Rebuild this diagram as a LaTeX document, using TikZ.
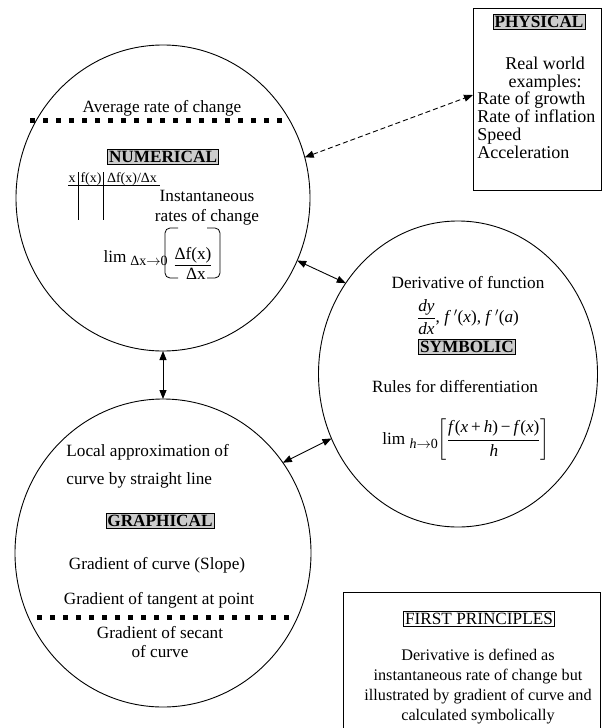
\documentclass[tikz,border=0pt]{standalone}
\usepackage{amsmath}
\usepackage{fontspec}
\setmainfont{Liberation Serif}
\usetikzlibrary{arrows.meta,shapes.geometric}
\newcommand\bodysize{\fontsize{17.2}{20}\selectfont}
\newcommand\smallsize{\fontsize{14}{16}\selectfont}

\begin{document}
\begin{tikzpicture}[x=1pt,y=-1pt,>={Triangle[length=9pt,width=7pt]},
  every node/.style={font=\bodysize,inner sep=0pt},line width=0.8pt]
  \tikzstyle{blob}=[ellipse,draw,line width=0.9pt,outer sep=0pt]
  \tikzstyle{panel}=[rectangle,draw,line width=0.9pt,outer sep=0pt]
  \tikzstyle{tag}=[draw,fill=black!20,font=\bodysize\bfseries,inner sep=1.5pt,line width=0.6pt]
  \tikzstyle{dotline}=[line width=5pt,dash pattern=on 5pt off 8pt]
  \tikzstyle{link}=[<->,line width=0.9pt]

  \useasboundingbox (0,0) rectangle (602,728);

  \node[blob,minimum width=294pt,minimum height=306pt] (num)   at (163,198) {};
  \node[blob,minimum width=279pt,minimum height=306pt] (sym)   at (458,374) {};
  \node[blob,minimum width=296pt,minimum height=308pt] (graph) at (163,553) {};
  \node[panel,minimum width=128pt,minimum height=182pt] (phys)  at (537,99) {};
  \node[panel,minimum width=257pt,minimum height=145pt] (first) at (471.5,664.5) {};

  \node (avg) at (162,108) {Average rate of change};
  \draw[dotline] (30,120) -- (285,120);
  \node[tag] (numtag) at (163,157) {NUMERICAL};
  \node[font=\smallsize] (colx) at (72,179) {x};
  \node[font=\smallsize] (colf) at (91,179) {f(x)};
  \node[font=\smallsize] (cold) at (132,179) {Δf(x)/Δx};
  \draw (68,185) -- (160,185);
  \draw (78,172) -- (78,220);
  \draw (103,172) -- (103,220);
  \node[align=center] (inst) at (207,208) {Instantaneous\\rates of change};
  \node (lim1) at (115,257) {lim};
  \node[font=\smallsize] (sub1) at (149,261) {Δx$\rightarrow$0};
  \node (fnum) at (193,257) {\underline{Δf(x)}};
  \node (fden) at (196,274) {Δx};
  \draw[rounded corners=5pt] (178,228) -- (165,228) -- (165,278) -- (178,278);
  \draw[rounded corners=5pt] (207,228) -- (220,228) -- (220,278) -- (207,278);

  \node (der) at (468,283) {Derivative of function};
  \node (deriv) at (468,317) {$\dfrac{\mbox{\itshape dy}}{\mbox{\itshape dx}}$, \textit{f}\,$'$(\textit{x}), \textit{f}\,$'$(\textit{a})};
  \node[tag] (symtag) at (467,347) {SYMBOLIC};
  \node (rules) at (455,387) {Rules for differentiation};
  \node (limh) at (466,440) {lim \raisebox{-4pt}{\smallsize\textit{h}$\rightarrow$0}$\left[\dfrac{\mbox{\textit{f}(\textit{x}\,+\,\textit{h})\,−\,\textit{f}(\textit{x})}}{\mbox{\textit{h}}}\right]$};

  \node[align=left,anchor=west,font=\fontsize{17.2}{28}\selectfont] (local) at (66,466) {Local approximation of\\curve by straight line};
  \node[tag] (graphtag) at (160,521) {GRAPHICAL};
  \node (slope) at (157,565) {Gradient of curve (Slope)};
  \node (tangent) at (159,600) {Gradient of tangent at point};
  \draw[dotline] (37,617) -- (292,617);
  \node[align=center,font=\fontsize{17.2}{19}\selectfont] (secant) at (160,642) {Gradient of secant\\of curve};

  \node[tag] (phystag) at (539,22) {PHYSICAL};
  \node[align=center,font=\fontsize{18}{18}\selectfont] (real) at (545,74) {Real world\\examples:};
  \node[align=left,anchor=west,font=\fontsize{18}{18}\selectfont] (uses) at (477,125) {Rate of growth\\Rate of inflation\\Speed\\Acceleration};

  \node[draw,inner sep=1.5pt,line width=0.6pt] (fptag) at (479,619) {FIRST PRINCIPLES};
  \node[align=center,font=\fontsize{16.2}{20}\selectfont] (fptext) at (478,687) {Derivative is defined as\\instantaneous rate of change but\\illustrated by gradient of curve and\\calculated symbolically};

  \path (num.-25)  edge[link] (sym.141)
        (graph.37) edge[link] (sym.207)
        (num.south) edge[link] (graph.north)
        (num.16)   edge[link,dashed,dash pattern=on 5pt off 3pt] ([yshift=4pt]phys.west);
\end{tikzpicture}
\end{document}
